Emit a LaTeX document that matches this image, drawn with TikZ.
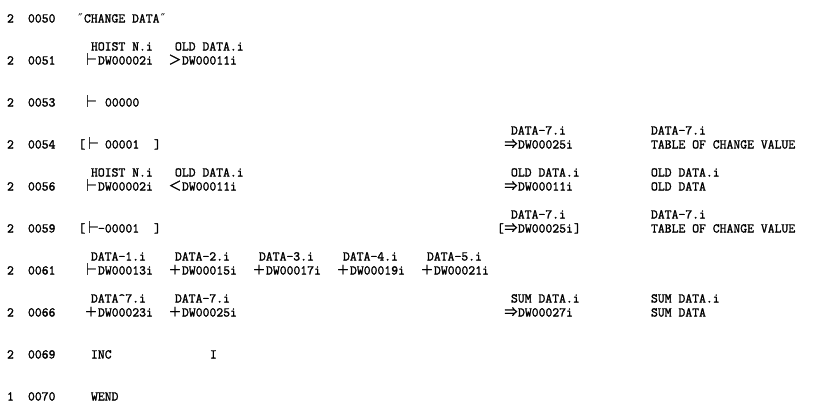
\documentclass[tikz,border=0pt]{standalone}
\usepackage{fontspec}
\usepackage{graphicx}
\newfontfamily\mono{Latin Modern Mono}[FakeBold=1.6]
\newfontfamily\cjk{Noto Sans CJK SC}[FakeBold=1.2]
\newfontfamily\dvm{DejaVu Sans Mono}
\newfontfamily\dvs{DejaVu Sans}
\newcommand\fw[1]{\makebox[14pt][c]{\cjk\fontsize{13}{13}\selectfont #1}}
\newcommand\qq{\makebox[7pt][c]{\dvm\fontsize{12}{12}\selectfont ″}}
% tee glyph: stem at its left, bar to the right
\newcommand\tee{\raisebox{-0.5pt}{\resizebox{11pt}{12pt}{\dvs ⊢}}}
\tikzset{txt/.style={anchor=base west,inner sep=0pt,outer sep=0pt,
  font=\mono\fontsize{13.333}{14}\selectfont}}
% \putt{name}{column}{line}{text}
\newcommand\putt[4]{\node[txt] (#1) at ({7*#2},{-22.5-14*#3}) {#4};}
% \putee{name}{column}{line}: tee glyph starting near 7*column+2
\newcommand\putee[3]{\node[txt] (#1) at ({7*#2+2},{-22.5-14*#3}) {\tee};}
\begin{document}
\begin{tikzpicture}[x=1pt,y=1pt]
\fill[white] (0,0) rectangle (833,-416);
\useasboundingbox (0,0) rectangle (833,-416);
% 0050
\putt{a1}{1}{0}{2}
\putt{a2}{4}{0}{0050}
\putt{a3}{11}{0}{\qq CHANGE DATA\qq}
% 0051
\putt{b1}{13}{2}{HOIST N.i}
\putt{b2}{25}{2}{OLD DATA.i}
\putt{b3}{1}{3}{2}
\putt{b4}{4}{3}{0051}
\putee{b5}{12}{3}
\putt{b6}{14}{3}{DW00002i}
\putt{b7}{24}{3}{\fw{＞}}
\putt{b8}{26}{3}{DW00011i}
% 0053
\putt{c1}{1}{6}{2}
\putt{c2}{4}{6}{0053}
\putee{c3}{12}{6}
\putt{c4}{15}{6}{00000}
% 0054
\putt{d1}{73}{8}{DATA-7.i}
\putt{d2}{93}{8}{DATA-7.i}
\putt{d3}{1}{9}{2}
\putt{d4}{4}{9}{0054}
\putt{d5}{11.2}{9}{[}
\putee{d6}{12.3}{9}
\putt{d7}{15}{9}{00001}
\putt{d8}{22}{9}{]}
\putt{d9}{72}{9}{\fw{⇒}}
\putt{d10}{74}{9}{DW00025i}
\putt{d11}{93}{9}{TABLE OF CHANGE VALUE}
% 0056
\putt{e1}{13}{11}{HOIST N.i}
\putt{e2}{25}{11}{OLD DATA.i}
\putt{e3}{73}{11}{OLD DATA.i}
\putt{e4}{93}{11}{OLD DATA.i}
\putt{e5}{1}{12}{2}
\putt{e6}{4}{12}{0056}
\putee{e7}{12}{12}
\putt{e8}{14}{12}{DW00002i}
\putt{e9}{24}{12}{\fw{＜}}
\putt{e10}{26}{12}{DW00011i}
\putt{e11}{72}{12}{\fw{⇒}}
\putt{e12}{74}{12}{DW00011i}
\putt{e13}{93}{12}{OLD DATA}
% 0059
\putt{f1}{73}{14}{DATA-7.i}
\putt{f2}{93}{14}{DATA-7.i}
\putt{f3}{1}{15}{2}
\putt{f4}{4}{15}{0059}
\putt{f5}{11.2}{15}{[}
\putee{f6}{12.3}{15}
\putt{f7}{14}{15}{-00001}
\putt{f8}{22}{15}{]}
\putt{f9}{71}{15}{[}
\putt{f10}{72}{15}{\fw{⇒}}
\putt{f11}{74}{15}{DW00025i}
\putt{f12}{82}{15}{]}
\putt{f13}{93}{15}{TABLE OF CHANGE VALUE}
% 0061
\putt{g1}{13}{17}{DATA-1.i}
\putt{g2}{25}{17}{DATA-2.i}
\putt{g3}{37}{17}{DATA-3.i}
\putt{g4}{49}{17}{DATA-4.i}
\putt{g5}{61}{17}{DATA-5.i}
\putt{g6}{1}{18}{2}
\putt{g7}{4}{18}{0061}
\putee{g8}{12}{18}
\putt{g9}{14}{18}{DW00013i}
\putt{g10}{24}{18}{\fw{＋}}
\putt{g11}{26}{18}{DW00015i}
\putt{g12}{36}{18}{\fw{＋}}
\putt{g13}{38}{18}{DW00017i}
\putt{g14}{48}{18}{\fw{＋}}
\putt{g15}{50}{18}{DW00019i}
\putt{g16}{60}{18}{\fw{＋}}
\putt{g17}{62}{18}{DW00021i}
% 0066
\putt{h1}{13}{20}{DATA\textasciicircum 7.i}
\putt{h2}{25}{20}{DATA-7.i}
\putt{h3}{73}{20}{SUM DATA.i}
\putt{h4}{93}{20}{SUM DATA.i}
\putt{h5}{1}{21}{2}
\putt{h6}{4}{21}{0066}
\putt{h7}{12}{21}{\fw{＋}}
\putt{h8}{14}{21}{DW00023i}
\putt{h9}{24}{21}{\fw{＋}}
\putt{h10}{26}{21}{DW00025i}
\putt{h11}{72}{21}{\fw{⇒}}
\putt{h12}{74}{21}{DW00027i}
\putt{h13}{93}{21}{SUM DATA}
% 0069
\putt{i1}{1}{24}{2}
\putt{i2}{4}{24}{0069}
\putt{i3}{13}{24}{INC}
\putt{i4}{30}{24}{I}
% 0070
\putt{j1}{1}{27}{1}
\putt{j2}{4}{27}{0070}
\putt{j3}{13}{27}{WEND}
\end{tikzpicture}
\end{document}
